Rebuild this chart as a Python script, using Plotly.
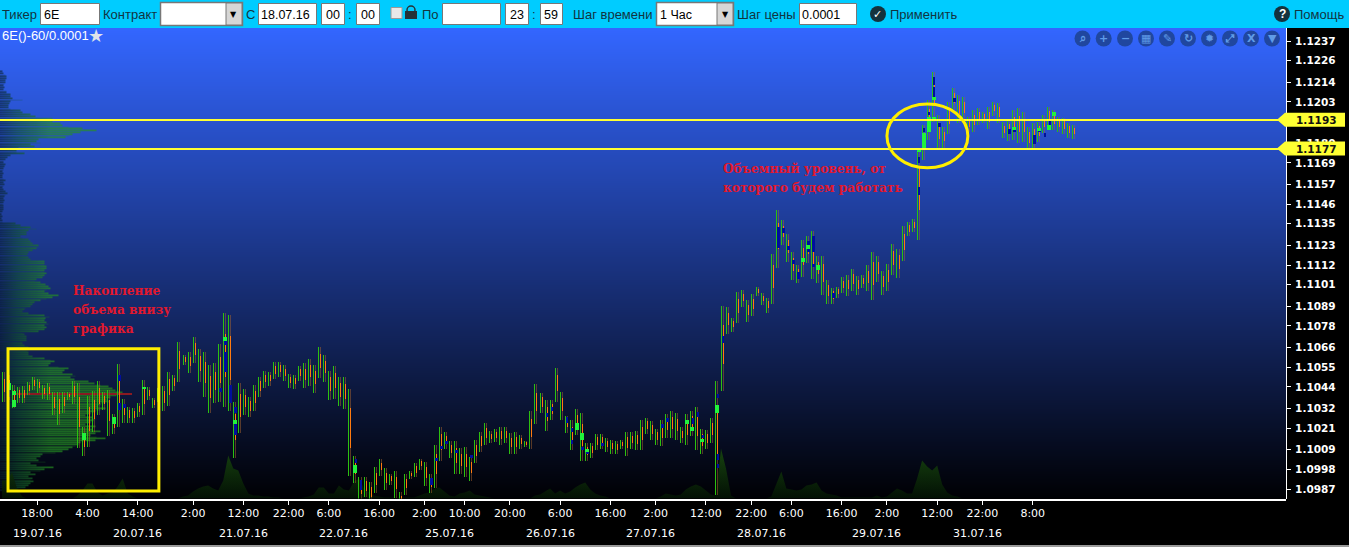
import numpy as np
import plotly.graph_objects as go

WIDTH = 1349
HEIGHT = 547

high = [1.10523,1.10507,1.10451,1.10440,1.10445,1.10467,1.10495,1.10484,1.10451,1.10462,
1.10412,1.10412,1.10412,1.10412,1.10473,1.10462,1.10216,1.10389,1.10417,1.10473,
1.10412,1.10423,1.10289,1.10568,1.10373,1.10328,1.10322,1.10350,1.10479,1.10440,
1.10378,1.10434,1.10445,1.10523,1.10507,1.10691,1.10618,1.10635,1.10719,1.10652,
1.10635,1.10562,1.10573,1.10679,1.10852,1.10841,1.10356,1.10462,1.10428,1.10384,
1.10451,1.10495,1.10529,1.10523,1.10579,1.10579,1.10562,1.10512,1.10507,1.10557,
1.10573,1.10596,1.10562,1.10663,1.10618,1.10529,1.10557,1.10495,1.10495,1.10428,
1.10055,1.09937,1.09937,1.09909,1.09993,1.10038,1.09988,1.09954,1.09971,1.09854,
1.09954,1.09971,1.10015,1.10038,1.10021,1.09954,1.10116,1.10216,1.10188,1.10138,
1.10138,1.10099,1.10105,1.10049,1.10144,1.10188,1.10239,1.10194,1.10205,1.10216,
1.10216,1.10183,1.10188,1.10172,1.10138,1.10306,1.10456,1.10406,1.10367,1.10367,
1.10546,1.10412,1.10278,1.10255,1.10317,1.10294,1.10127,1.10127,1.10177,1.10177,
1.10155,1.10144,1.10138,1.10144,1.10188,1.10188,1.10194,1.10255,1.10267,1.10250,
1.10205,1.10255,1.10289,1.10306,1.10294,1.10216,1.10289,1.10306,1.10328,1.10205,
1.10200,1.10267,1.10473,1.10892,1.10886,1.10825,1.10970,1.10981,1.10925,1.10958,
1.10998,1.10964,1.10936,1.11182,1.11427,1.11371,1.11293,1.11193,1.11120,1.11260,
1.11282,1.11310,1.11171,1.11171,1.11037,1.10992,1.10998,1.11053,1.11065,1.11098,
1.11059,1.11065,1.11120,1.11193,1.11171,1.11087,1.11126,1.11237,1.11210,1.11338,
1.11360,1.11377,1.11773,1.11902,1.12041,1.12197,1.11958,1.11890,1.12030,1.12108,
1.12069,1.12058,1.11946,1.11985,1.11997,1.11974,1.12002,1.12030,1.12024,1.11918,
1.11935,1.11985,1.11997,1.11974,1.11890,1.11913,1.11918,1.11958,1.12002,1.11985,
1.11946,1.11941,1.11913,1.11902]
low = [1.10356,1.10367,1.10322,1.10350,1.10350,1.10395,1.10423,1.10406,1.10373,1.10367,
1.10283,1.10227,1.10294,1.10367,1.10345,1.10099,1.10055,1.10105,1.10188,1.10283,
1.10311,1.10166,1.10177,1.10216,1.10239,1.10239,1.10239,1.10272,1.10283,1.10367,
1.10322,1.10356,1.10306,1.10334,1.10417,1.10467,1.10562,1.10518,1.10573,1.10467,
1.10384,1.10294,1.10350,1.10356,1.10328,1.10306,1.10043,1.10183,1.10283,1.10272,
1.10306,1.10384,1.10434,1.10445,1.10484,1.10495,1.10473,1.10434,1.10428,1.10473,
1.10434,1.10445,1.10406,1.10490,1.10467,1.10367,1.10373,1.10334,1.10317,1.09943,
1.09904,1.09798,1.09826,1.09787,1.09848,1.09943,1.09865,1.09893,1.09820,1.09753,
1.09837,1.09926,1.09937,1.09976,1.09887,1.09848,1.09876,1.10027,1.10094,1.10043,
1.09954,1.09954,1.09937,1.09915,1.10015,1.10077,1.10116,1.10127,1.10133,1.10116,
1.10127,1.10066,1.10066,1.10094,1.10105,1.10094,1.10233,1.10294,1.10194,1.10255,
1.10356,1.10255,1.10183,1.10088,1.10172,1.10027,1.10027,1.10043,1.10088,1.10094,
1.10077,1.10066,1.10066,1.10094,1.10055,1.10094,1.10088,1.10088,1.10177,1.10144,
1.10116,1.10110,1.10155,1.10155,1.10144,1.10127,1.10116,1.10166,1.10088,1.10066,
1.10094,1.10127,1.09837,1.10417,1.10735,1.10747,1.10797,1.10886,1.10802,1.10836,
1.10947,1.10897,1.10852,1.10903,1.11104,1.11232,1.11137,1.11037,1.11020,1.11053,
1.11131,1.11042,1.11020,1.10953,1.10903,1.10903,1.10936,1.10964,1.10947,1.10975,
1.10953,1.10992,1.10975,1.10925,1.11026,1.10953,1.10975,1.11065,1.11048,1.11143,
1.11282,1.11304,1.11260,1.11706,1.11818,1.11918,1.11762,1.11773,1.11851,1.11985,
1.11913,1.11929,1.11863,1.11863,1.11902,1.11913,1.11879,1.11952,1.11913,1.11829,
1.11812,1.11818,1.11801,1.11807,1.11762,1.11762,1.11807,1.11857,1.11902,1.11874,
1.11863,1.11851,1.11829,1.11823]

blue_bar = [1,23,23,24,43,44,44,45,46,46,70,71,85,86,87,88,90,93,108,109,112,113,113,114,115,116,119,
131,132,137,138,139,142,142,142,143,154,155,156,157,158,160,161,161,165,182,182,183,184,185,185,186,
189,200,201,205,206,207,208,209]
blue_top = [1.10462,1.10507,1.10350,1.10345,1.10434,1.10702,1.10635,1.10451,1.10328,1.10239,1.10038,1.09921,
1.09932,1.10043,1.10110,1.10138,1.10088,1.10060,1.10294,1.10328,1.10272,1.10211,1.10144,1.10227,1.10105,
1.10082,1.10127,1.10233,1.10267,1.10267,1.10300,1.10172,1.10400,1.10066,1.10010,1.10724,1.11332,1.11327,
1.11226,1.11148,1.11081,1.11254,1.11282,1.11126,1.10964,1.11723,1.11556,1.11885,1.11974,1.12169,1.12114,
1.11913,1.12052,1.11879,1.11885,1.11846,1.11885,1.11857,1.11924,1.11968]
blue_bottom = [1.10384,1.10473,1.10311,1.10322,1.10412,1.10674,1.10523,1.10350,1.10294,1.10172,1.10015,1.09865,
1.09893,1.10027,1.10094,1.10121,1.10071,1.10043,1.10272,1.10306,1.10239,1.10188,1.10121,1.10211,1.10088,
1.10066,1.10110,1.10211,1.10244,1.10233,1.10272,1.10155,1.10378,1.10032,1.09988,1.10685,1.11215,1.11299,
1.11204,1.11126,1.11042,1.11193,1.11193,1.11109,1.10936,1.11689,1.11511,1.11863,1.11957,1.12125,1.12058,
1.11890,1.12030,1.11851,1.11863,1.11795,1.11863,1.11835,1.11902,1.11957]

lime_bar = [1,2,2,16,22,28,44,46,70,114,115,116,136,137,139,142,159,160,162,182,183,184,185,185,201,206,208,209]
lime_top = [1.10462,1.10417,1.10367,1.10183,1.10272,1.10440,1.10719,1.10255,1.10004,1.10239,1.10183,1.10094,
1.10255,1.10216,1.10149,1.10339,1.11159,1.11232,1.11120,1.11773,1.11857,1.11946,1.12058,1.11946,1.11890,
1.11885,1.11902,1.11974]
lime_bottom = [1.10423,1.10395,1.10328,1.10144,1.10233,1.10428,1.10696,1.10233,1.09960,1.10200,1.10144,1.10077,
1.10233,1.10194,1.10133,1.10294,1.11137,1.11210,1.11092,1.11751,1.11773,1.11863,1.12041,1.11929,1.11874,
1.11868,1.11874,1.11952]

# volume under the bars, one value per bar
volume = [18,18,26,10,2,0,0,0,0,0,0,0,0,0,0,3,8,15,15,6,3,5,6,12,20,5,2,0,0,0,0,0,0,0,0,0,2,3,7,10,
12,13,10,8,18,43,30,28,15,5,3,3,2,2,1,1,0,0,0,0,1,2,4,11,11,5,5,13,9,8,17,20,10,6,3,2,1,1,1,1,
1,1,1,3,5,6,10,11,7,3,2,5,6,8,4,3,2,1,0,0,0,0,0,0,0,0,3,4,7,10,5,8,5,7,11,14,16,9,5,3,
2,0,0,0,0,0,0,0,0,0,0,2,5,4,3,4,9,12,14,12,8,4,3,50,30,3,0,0,0,0,0,0,0,2,14,27,10,9,8,9,
13,14,16,8,5,4,3,1,1,1,1,1,1,1,3,1,2,6,10,8,5,5,20,38,32,28,33,14,6,3,2,0,0,0,0,0,0,0,0,0,
0,0,0,0,0,0,0,0,0,0,0,0,0,0]

# market profile, one row per 0.0001 going up from profile_start
profile_start = 1.0986
profile = [4,18,25,28,30,33,30,32,28,35,30,40,44,53,36,30,45,38,36,40,42,55,62,68,72,75,78,80,95,105,96,90,95,
100,92,88,95,85,90,93,95,92,85,90,95,100,105,98,100,104,108,106,110,116,118,122,115,112,108,100,94,88,74,70,
75,72,62,64,68,58,48,50,54,50,44,32,28,28,26,28,28,24,22,22,26,26,26,24,22,38,44,46,44,48,46,44,45,49,44,28,
22,24,26,30,32,34,40,46,52,58,48,44,46,50,48,45,40,34,36,42,44,46,44,44,46,46,44,44,44,30,28,26,27,28,32,36,
38,38,32,30,28,22,20,26,26,28,36,30,20,15,2,2,1,2,1,1,2,3,3,3,2,3,4,3,4,5,7,5,3,2,3,4,3,5,3,2,2,3,2,3,3,4,5,
3,3,5,7,10,24,16,16,18,34,30,40,36,38,65,68,72,80,96,82,68,62,60,52,52,52,35,30,22,20,10,8,8,9,10,22,12,10,10,
6,6,3,4,3,4,5,5,6,6,5,3,2]
poc_price = 1.1040
poc_width = 132

levels = [1.1193, 1.1177]

price_ticks = [1.1237,1.1226,1.1214,1.1203,1.1192,1.1180,1.1169,1.1157,1.1146,1.1135,1.1123,1.1112,1.1101,
1.1089,1.1078,1.1066,1.1055,1.1044,1.1032,1.1021,1.1009,1.0998,1.0987]

time_bars = [7,17,27,38,48,57,65,75,84,92,101,111,121,130,140,149,157,167,176,186,195,205]
time_labels = ["18:00","4:00","14:00","2:00","12:00","22:00","6:00","16:00","2:00","10:00","20:00","6:00",
"16:00","2:00","12:00","22:00","6:00","16:00","2:00","12:00","22:00","8:00"]
date_bars = [7,27,48,68,89,109,129,151,174,194]
date_labels = ["19.07.16","20.07.16","21.07.16","22.07.16","25.07.16","26.07.16","27.07.16","28.07.16","29.07.16","31.07.16"]

# screen geometry of the chart area
PLOT_RIGHT = 1286
PLOT_TOP = 28
PLOT_BOTTOM = 498.5
BAR_PX = 5.028
PRICE_PX = 17920.0

x_min = -2 / BAR_PX
x_max = (PLOT_RIGHT - 2) / BAR_PX
y_min = 1.0987 - (PLOT_BOTTOM - 489) / PRICE_PX
y_max = 1.1237 + (41 - PLOT_TOP) / PRICE_PX


def px(x):
    return x / WIDTH


def py(y):
    return 1 - y / HEIGHT


def segments(bars, tops, bottoms, offset=0.0):
    xs, ys = [], []
    for b, t, m in zip(bars, tops, bottoms):
        xs += [b + offset, b + offset, None]
        ys += [t, m, None]
    return xs, ys


fig = go.Figure()

# chart background gradient
fig.add_trace(go.Heatmap(
    x=[x_min, x_max], y=[y_min, y_max], z=[[0, 0], [1, 1]], zsmooth="best", showscale=False, hoverinfo="skip",
    colorscale=[[0, "#000003"], [1, "#3366ff"]],
))

# market profile on the left edge
columns = np.arange(0, 126, 1.0)
rows = [profile_start + i * 0.0001 for i in range(len(profile))]
z = [[c if c <= w else None for c in columns] for w in profile]
fig.add_trace(go.Heatmap(
    x=(columns - 2) / BAR_PX, y=rows, z=z, zmin=0, zmax=125, showscale=False, hoverinfo="skip", ygap=0.7,
    colorscale=[[0, "rgba(8,30,50,0.8)"], [0.15, "rgba(18,85,45,0.85)"], [0.4, "rgba(38,145,35,0.9)"], [1, "rgba(45,150,25,0.9)"]],
))

# volume area
bars = list(range(len(volume)))
fig.add_trace(go.Scatter(x=bars, y=[y_min] * len(bars), mode="lines", line=dict(width=0), hoverinfo="skip"))
fig.add_trace(go.Scatter(
    x=bars, y=[y_min + v / PRICE_PX for v in volume], mode="lines", line=dict(width=0), fill="tonexty",
    hoverinfo="skip",
    fillgradient=dict(type="vertical", start=y_min, stop=y_min + 45 / PRICE_PX,
                      colorscale=[[0, "rgba(3,18,4,0.9)"], [1, "rgba(22,66,14,0.95)"]]),
))

# point of control
fig.add_trace(go.Scatter(
    x=[(12 - 2) / BAR_PX, (poc_width - 2) / BAR_PX], y=[poc_price, poc_price], mode="lines",
    line=dict(color="#8a1a22", width=2), hoverinfo="skip",
))

# bars: dim right column, orange body, green range, then blue and lime clusters
bar_ids = list(range(len(high)))
xs, ys = segments(bar_ids, high, low, 0.4)
fig.add_trace(go.Scatter(x=xs, y=ys, mode="lines", line=dict(color="rgba(170,100,45,0.5)", width=1), hoverinfo="skip"))
body_top = [h - (h - l) * 0.22 for h, l in zip(high, low)]
body_bottom = [h - (h - l) * 0.68 for h, l in zip(high, low)]
xs, ys = segments(bar_ids, body_top, body_bottom, 0.4)
fig.add_trace(go.Scatter(x=xs, y=ys, mode="lines", line=dict(color="#ff7a10", width=1), hoverinfo="skip"))
xs, ys = segments(bar_ids, high, low)
fig.add_trace(go.Scatter(x=xs, y=ys, mode="lines", line=dict(color="#2cc010", width=1), hoverinfo="skip"))
xs, ys = segments(blue_bar, blue_top, blue_bottom, 0.4)
fig.add_trace(go.Scatter(x=xs, y=ys, mode="lines", line=dict(color="#000f9c", width=2.6), hoverinfo="skip"))
xs, ys = segments(lime_bar, lime_top, lime_bottom, 0.3)
fig.add_trace(go.Scatter(x=xs, y=ys, mode="lines", line=dict(color="#22f23c", width=4), hoverinfo="skip"))

# working levels
for level in levels:
    fig.add_trace(go.Scatter(
        x=[x_min, x_max], y=[level, level], mode="lines", line=dict(color="#ffff33", width=2), hoverinfo="skip",
    ))

shapes = []
annotations = []


def rect(x0, y0, x1, y1, fill, line=None, width=1):
    shapes.append(dict(type="rect", xref="paper", yref="paper", x0=px(x0), x1=px(x1), y0=py(y0), y1=py(y1),
                       fillcolor=fill, line=dict(color=line or fill, width=width if line else 0)))


def circle(cx, cy, r, fill):
    shapes.append(dict(type="circle", xref="paper", yref="paper", x0=px(cx - r), x1=px(cx + r), y0=py(cy + r),
                       y1=py(cy - r), fillcolor=fill, line=dict(width=0)))


def text(x, y, s, size=13, color="#12343f", family="Liberation Sans", anchor="left", bold=False):
    annotations.append(dict(xref="paper", yref="paper", x=px(x), y=py(y), text="<b>%s</b>" % s if bold else s,
                            showarrow=False, xanchor=anchor, yanchor="middle", borderpad=0, borderwidth=0,
                            font=dict(size=size, color=color, family=family)))


def path(points, fill):
    d = "M" + " L".join("%.5f,%.5f" % (px(a), py(b)) for a, b in points) + " Z"
    shapes.append(dict(type="path", xref="paper", yref="paper", path=d, fillcolor=fill, line=dict(width=0)))


# right price band and its edge, bottom scrollbar
rect(PLOT_RIGHT, 28, 1287, 499, "#ffffff")
rect(0, 545, WIDTH, 547, "#9a9a9a")

# toolbar
rect(0, 0, WIDTH, 28, "#00ccff")
BORDER = "#777777"
for x0, x1 in [(40, 100), (258, 317), (321, 345), (356, 380), (442, 501), (505, 529), (540, 563), (799, 857)]:
    rect(x0 + 0.5, 3.5, x1 - 0.5, 24.5, "#ffffff", BORDER)
for x0, x1, x2 in [(160, 226, 243), (656, 717, 734)]:
    rect(x0 + 0.5, 2.5, x2 - 0.5, 25.5, "#ffffff", BORDER, 1.5)
    rect(x1, 3, x2 - 1, 25, "#d6d6d6", BORDER)
    text((x1 + x2 - 1) / 2, 14, "▼", 8, "#000000", "DejaVu Sans", "center")
text(2, 15, "Тикер")
text(44, 15, "6E", 12.5, "#000000")
text(103, 15, "Контракт")
text(246, 15, "С")
text(261, 15, "18.07.16", 12.5, "#000000")
text(333, 15, "00", 12.5, "#000000", anchor="center")
text(350, 15, ":", anchor="center")
text(368, 15, "00", 12.5, "#000000", anchor="center")
rect(391, 7.5, 402, 18.5, "#e8e8e8", "#9a9a9a")
rect(405, 11, 417, 19, "#263238")
shapes.append(dict(type="circle", xref="paper", yref="paper", x0=px(407), x1=px(415), y0=py(14), y1=py(6),
                   fillcolor="rgba(0,0,0,0)", line=dict(color="#263238", width=1.5)))
text(422, 15, "По")
text(517, 15, "23", 12.5, "#000000", anchor="center")
text(534, 15, ":", anchor="center")
text(551, 15, "59", 12.5, "#000000", anchor="center")
text(573, 15, "Шаг времени")
text(660, 15, "1 Час", 12.5, "#000000")
text(737, 15, "Шаг цены")
text(802, 15, "0.0001", 12.5, "#000000")
circle(878, 14, 8, "#14323d")
text(878, 14, "✓", 11, "#ffffff", "DejaVu Sans", "center", True)
text(890, 15, "Применить")
circle(1282, 14, 8, "#14323d")
text(1282, 14, "?", 12, "#ffffff", "Liberation Sans", "center", True)
text(1294, 15, "Помощь")

# chart title and star
text(2, 36, "6E()-60/0.0001", 13, "#ffffff")
text(96, 36, "★", 18, "#dfe3ea", "DejaVu Sans", "center")

# chart tool buttons
for cx, glyph in zip([1082.5, 1103.7, 1125, 1146, 1167, 1188, 1209, 1230, 1251, 1272],
                     ["⌕", "+", "−", "▦", "✎", "↻", "✹", "⤢", "X", "▼"]):
    circle(cx, 38.5, 8, "#20479f")
    text(cx, 38.5, glyph, 11, "#5f9be8", "DejaVu Sans", "center", True)

# price tags for the levels
for level, tag in zip(levels, ["1.1193", "1.1177"]):
    mid = 41 + (1.1237 - level) * PRICE_PX
    path([(1277, mid), (1285, mid - 7), (1345, mid - 7), (1345, mid + 7), (1285, mid + 7)], "#ffff33")
    text(1316, mid + 0.5, tag, 10.5, "#111111", "DejaVu Sans", "center", True)

# date row under the time labels
for b, label in zip(date_bars, date_labels):
    annotations.append(dict(xref="x", yref="paper", x=b, y=py(533), text=label, showarrow=False, xanchor="center",
                            yanchor="middle", font=dict(size=11, color="#ffffff", family="DejaVu Sans")))

# hand-drawn marks on the chart
shapes.append(dict(type="rect", xref="x", yref="y", x0=1.2, x1=31.2, y0=1.09859, y1=1.10652,
                   line=dict(color="#ffee00", width=3), fillcolor="rgba(0,0,0,0)"))
shapes.append(dict(type="circle", xref="x", yref="y", x0=176.0, x1=192.1, y0=1.11662, y1=1.12019,
                   line=dict(color="#ffee00", width=3), fillcolor="rgba(0,0,0,0)"))

RED = "#e3182d"
for y, s in [(291, "Накопление"), (310, "объема внизу"), (329, "графика")]:
    text(73, y, s, 12.2, RED, "DejaVu Serif", bold=True)
for y, s in [(169, "Объемный уровень, от"), (188, "которого будем работать")]:
    text(723, y, s, 12.2, RED, "DejaVu Serif", bold=True)

fig.update_layout(
    width=WIDTH, height=HEIGHT, margin=dict(l=0, r=0, t=0, b=0), paper_bgcolor="#000000", plot_bgcolor="#000000",
    showlegend=False, shapes=shapes, annotations=annotations,
    xaxis=dict(domain=[0, PLOT_RIGHT / WIDTH], range=[x_min, x_max], tickvals=time_bars, ticktext=time_labels,
               ticks="outside", ticklen=5, tickcolor="#ffffff", tickwidth=1, showgrid=False, zeroline=False,
               showline=True, linecolor="#ffffff", linewidth=1.5, ticklabelstandoff=-1,
               tickfont=dict(size=11, color="#ffffff", family="DejaVu Sans")),
    yaxis=dict(domain=[py(PLOT_BOTTOM), py(PLOT_TOP)], range=[y_min, y_max], side="right", tickvals=price_ticks,
               ticktext=["<b>%.4f</b>" % t for t in price_ticks], ticks="outside", ticklen=4, tickcolor="#ffffff",
               showgrid=False, zeroline=False, ticklabelstandoff=2,
               tickfont=dict(size=10.5, color="#ffffff", family="DejaVu Sans")),
)

# thin bar strokes stay on whole pixels, like the original chart
crisp = "document.querySelectorAll('.js-line').forEach(function(p){p.style.shapeRendering='crispEdges';});"
fig.write_html("out.html", config={"displayModeBar": False},
               post_script="document.body.style.margin='0';document.documentElement.style.overflow='hidden';" + crisp)
